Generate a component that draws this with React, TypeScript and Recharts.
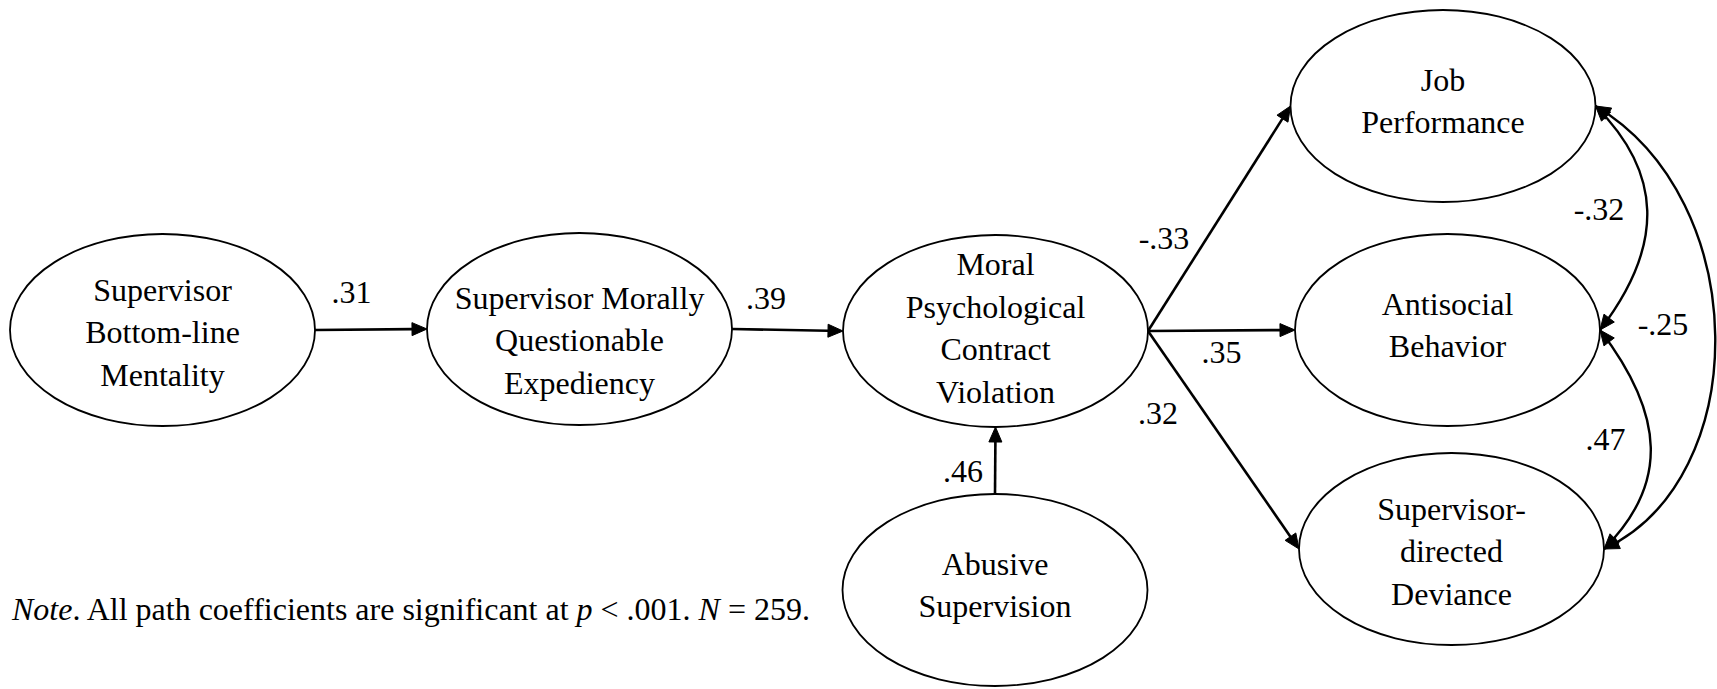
import React from 'react';
import { ScatterChart, Scatter, XAxis, YAxis } from 'recharts';

const W = 1717;
const H = 689;
const FONT = 'Liberation Serif, Times New Roman, Tinos, DejaVu Serif, serif';
const FS = 32;
const LH = 42.5;
const RX = 152.5;
const RY = 96;

// ---- Constructs (latent variables) ----
const nodeLines: string[][] = [
  ['Supervisor', 'Bottom-line', 'Mentality'],
  ['Supervisor Morally', 'Questionable', 'Expediency'],
  ['Moral', 'Psychological', 'Contract', 'Violation'],
  ['Abusive', 'Supervision'],
  ['Job', 'Performance'],
  ['Antisocial', 'Behavior'],
  ['Supervisor-', 'directed', 'Deviance'],
];
const nodeX = [162.5, 579.5, 995.5, 995, 1443, 1447.5, 1451.5];
const nodeY = [330, 329, 331, 590, 106, 330, 549];

// ---- Directed paths ----
const pathFrom = [0, 1, 3, 2, 2, 2];
const pathTo = [1, 2, 2, 4, 5, 6];
const pathCoef = ['.31', '.39', '.46', '-.33', '.35', '.32'];
const pathLabelX = [351.5, 766, 963, 1164, 1221.5, 1158];
const pathLabelY = [303, 309, 482, 249, 363, 424];

// ---- Covariances ----
const covA = [4, 5, 4];
const covB = [5, 6, 6];
const covCoef = ['-.32', '.47', '-.25'];
const covLabelX = [1599, 1605.5, 1663];
const covLabelY = [220, 450, 335];

// ---- Note ----
const noteX = 12;
const noteY = 620;

// ---- styles (not data) ----
const textShift = [13, 22, 8, 6, 6, 6, 13];
const pathPorts: [string, string][] = [
  ['right', 'left'],
  ['right', 'left'],
  ['top', 'bottom'],
  ['right', 'left'],
  ['right', 'left'],
  ['right', 'left'],
];
const covBend: [number, number][][] = [
  [[66, 66], [66, -86]],
  [[65, 85], [65, -65]],
  [[158, 94], [150, -70]],
];

const textStyle: React.CSSProperties = { fontFamily: FONT, fontSize: FS };

const port = (p: { x: number; y: number }, side: string) => {
  switch (side) {
    case 'right':
      return { x: p.x + RX, y: p.y };
    case 'left':
      return { x: p.x - RX, y: p.y };
    case 'top':
      return { x: p.x, y: p.y - RY };
    default:
      return { x: p.x, y: p.y + RY };
  }
};

const AL = 15;
const AHW = 6.5;

const head = (tip: { x: number; y: number }, from: { x: number; y: number }) => {
  const dx = tip.x - from.x;
  const dy = tip.y - from.y;
  const l = Math.hypot(dx, dy) || 1;
  const ux = dx / l;
  const uy = dy / l;
  const bx = tip.x - ux * AL;
  const by = tip.y - uy * AL;
  const px = -uy;
  const py = ux;
  return {
    d: `M${tip.x},${tip.y} L${bx + px * AHW},${by + py * AHW} L${bx - px * AHW},${by - py * AHW} Z`,
    base: { x: bx, y: by },
  };
};

function Edge(props: any) {
  const pts = props.points;
  if (!pts || pts.length < 2) return null;
  const p0 = port(pts[0], props.fromPort);
  const p3 = port(pts[1], props.toPort);
  if (props.bend) {
    const [c1, c2] = props.bend as [number, number][];
    const p1 = { x: p0.x + c1[0], y: p0.y + c1[1] };
    const p2 = { x: p3.x + c2[0], y: p3.y + c2[1] };
    const h0 = head(p0, p1);
    const h3 = head(p3, p2);
    return (
      <g>
        <path
          d={`M${p0.x},${p0.y} C${p1.x},${p1.y} ${p2.x},${p2.y} ${p3.x},${p3.y}`}
          fill="none"
          stroke="#000"
          strokeWidth={2.4}
        />
        <path d={h0.d} fill="#000" stroke="#000" strokeWidth={1} />
        <path d={h3.d} fill="#000" stroke="#000" strokeWidth={1} />
      </g>
    );
  }
  const h = head(p3, p0);
  return (
    <g>
      <line x1={p0.x} y1={p0.y} x2={h.base.x} y2={h.base.y} stroke="#000" strokeWidth={2.6} />
      <path d={h.d} fill="#000" stroke="#000" strokeWidth={1} />
    </g>
  );
}

function NodeShape(props: any) {
  const { cx, cy } = props;
  const p = props.payload || props;
  const lines: string[] = p.lines;
  const n = lines.length;
  return (
    <g>
      <ellipse cx={cx} cy={cy} rx={RX} ry={RY} fill="#fff" stroke="#000" strokeWidth={1.8} />
      {lines.map((t, i) => (
        <text
          key={i}
          x={cx}
          y={cy + p.shift + (i - (n - 1) / 2) * LH}
          textAnchor="middle"
          style={textStyle}
          fill="#000"
        >
          {t}
        </text>
      ))}
    </g>
  );
}

function LabelShape(props: any) {
  const { cx, cy } = props;
  const p = props.payload || props;
  return (
    <text x={cx} y={cy} textAnchor="middle" style={textStyle} fill="#000">
      {p.text}
    </text>
  );
}

function NoteShape(props: any) {
  const { cx, cy } = props;
  return (
    <text x={cx} y={cy} style={{ ...textStyle, whiteSpace: 'pre' }} fill="#000">
      <tspan fontStyle="italic">Note</tspan>
      <tspan>. All path coefficients are significant at </tspan>
      <tspan fontStyle="italic">p</tspan>
      <tspan> &lt; .001. </tspan>
      <tspan fontStyle="italic">N</tspan>
      <tspan> = 259.</tspan>
    </text>
  );
}

const Empty = () => <g />;

const nodeData = nodeLines.map((lines, i) => ({
  x: nodeX[i],
  y: nodeY[i],
  lines,
  shift: textShift[i],
}));

const labelData = [
  ...pathCoef.map((t, i) => ({ x: pathLabelX[i], y: pathLabelY[i], text: t })),
  ...covCoef.map((t, i) => ({ x: covLabelX[i], y: covLabelY[i], text: t })),
];

const noteData = [{ x: noteX, y: noteY }];

export default function App() {
  return (
    <div style={{ position: 'absolute', left: 0, top: 0, width: W, height: H, background: '#fff', fontFamily: FONT }}>
      <ScatterChart width={W} height={H} margin={{ top: 0, right: 0, bottom: 0, left: 0 }}>
        <XAxis type="number" dataKey="x" domain={[0, W]} hide allowDataOverflow />
        <YAxis type="number" dataKey="y" domain={[0, H]} reversed hide allowDataOverflow />
        <Scatter data={nodeData} shape={NodeShape} isAnimationActive={false} />
        {pathFrom.map((f, i) => (
          <Scatter
            key={`p${i}`}
            data={[
              { x: nodeX[f], y: nodeY[f] },
              { x: nodeX[pathTo[i]], y: nodeY[pathTo[i]] },
            ]}
            line={<Edge fromPort={pathPorts[i][0]} toPort={pathPorts[i][1]} />}
            shape={Empty}
            isAnimationActive={false}
          />
        ))}
        {covA.map((a, i) => (
          <Scatter
            key={`c${i}`}
            data={[
              { x: nodeX[a], y: nodeY[a] },
              { x: nodeX[covB[i]], y: nodeY[covB[i]] },
            ]}
            line={<Edge fromPort="right" toPort="right" bend={covBend[i]} />}
            shape={Empty}
            isAnimationActive={false}
          />
        ))}
        <Scatter data={labelData} shape={LabelShape} isAnimationActive={false} />
        <Scatter data={noteData} shape={NoteShape} isAnimationActive={false} />
      </ScatterChart>
    </div>
  );
}
